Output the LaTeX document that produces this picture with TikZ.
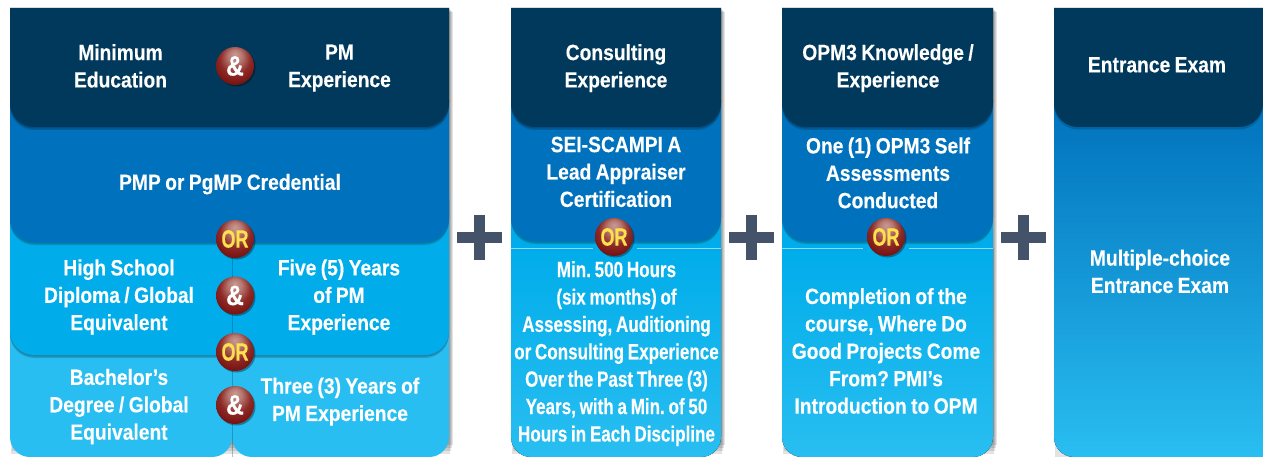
\documentclass[tikz,border=0pt]{standalone}
\usepackage{fontspec}
\newfontfamily\labfam{Liberation Sans Bold}[FakeStretch=0.875,FakeBold=0.25]
\newfontfamily\narrowfam{Liberation Sans Bold}[FakeStretch=0.775,FakeBold=0.25]
\newfontfamily\orfam{Liberation Sans Bold}[FakeStretch=0.72,FakeBold=0.3]
\usetikzlibrary{shadows}
\definecolor{cdark}{HTML}{00395C}
\definecolor{cblue}{HTML}{0071BC}
\definecolor{ccyan}{HTML}{00ADEA}
\definecolor{clight}{HTML}{29BEF1}
\definecolor{cplus}{HTML}{44526A}
\definecolor{ballhi}{HTML}{C79A92}
\definecolor{ballmid}{HTML}{8E2A26}
\definecolor{balllo}{HTML}{6E0B0B}
\definecolor{orgold}{HTML}{FFE14D}
\pgfdeclareradialshading{ballshade}{\pgfpoint{0bp}{16bp}}{%
  color(0bp)=(ballhi); color(9bp)=(ballhi!70!ballmid); color(20bp)=(ballmid); color(34bp)=(balllo); color(50bp)=(balllo)}
\newcommand\panelpath[4]{(#1,#2) -- (#3,#2) [rounded corners=24pt] -- (#3,#4) -- (#1,#4) [sharp corners] -- cycle}
\newcommand\labfont{\labfam\fontsize{22}{27.4}\selectfont\frenchspacing\spaceskip=.2em\relax}
\newcommand\narrowfont{\narrowfam\fontsize{22}{27.4}\selectfont\frenchspacing\spaceskip=.17em\relax}
\newcommand\labstrut{\vrule width 0pt height 19pt depth 8pt\relax}
\tikzset{
  x=1pt,y=-1pt,
  lab/.style={text=white,align=center,font=\labfont,inner sep=0pt,yshift=-3.8pt,
    execute at begin node=\labstrut,execute at end node=\labstrut},
  narrowlab/.style={lab,font=\narrowfont},
  ball/.style={circle,minimum size=38pt,inner sep=0pt,shading=ballshade,
    drop shadow={shadow xshift=1.5pt,shadow yshift=-1.5pt,opacity=.35,fill=black}},
  andball/.style={ball,text=white,font=\labfam\fontsize{28}{28}\selectfont},
  orball/.style={ball,text=orgold,font=\orfam\fontsize{25}{25}\selectfont},
  plusbar/.style={fill=cplus},
  colshadow/.style={fill=black,opacity=.11},
  panelshadow/.style={fill=black,opacity=.16},
  hairline/.style={draw=white,opacity=.55,line width=.7pt},
  divider/.style={draw=cdark,opacity=.3,line width=.8pt},
}
\newcommand\colshade[4]{%
  \foreach \d in {1,2,3,4}{\fill[colshadow] (#1+\d,#2+\d) rectangle (#3+\d,#4-\d*3);}}
\newcommand\panel[5]{%
  \fill[panelshadow] \panelpath{#1}{#2}{#3}{#4+1.5};
  \fill[panelshadow] \panelpath{#1}{#2}{#3}{#4+3};
  \fill[#5] \panelpath{#1}{#2}{#3}{#4};}
\begin{document}
\begin{tikzpicture}
\useasboundingbox (0,0) rectangle (1263,457);
\fill[white] (0,0) rectangle (1263,457);
% ---- column 1
\colshade{10}{8}{449}{457}
\fill[clight] (10,300) [rounded corners=20pt] -- (10,457) -- (232,457) [sharp corners] -- (232,300) -- cycle;
\fill[clight] (449,300) [rounded corners=20pt] -- (449,457) -- (232,457) [sharp corners] -- (232,300) -- cycle;
\draw[divider] (232,350) -- (232,457);
\panel{10}{200}{449}{355}{ccyan}
\draw[divider] (232,250) -- (232,352);
\panel{10}{100}{449}{242}{cblue}
\panel{10}{8}{449}{127}{cdark}
% ---- column 2
\colshade{511}{8}{721}{457}
\fill[ccyan] (511,200) rectangle (721,249);
\fill[top color=ccyan,bottom color=clight] (511,248) -- (721,248) [rounded corners=20pt] -- (721,457) -- (511,457) [sharp corners] -- cycle;
\draw[hairline] (511,248.5) -- (593,248.5);
\draw[hairline] (637,248.5) -- (721,248.5);
\panel{511}{100}{721}{241}{cblue}
\panel{511}{8}{721}{127}{cdark}
% ---- column 3
\colshade{782}{8}{993}{457}
\fill[ccyan] (782,200) rectangle (993,249);
\fill[top color=ccyan,bottom color=clight] (782,248) -- (993,248) [rounded corners=20pt] -- (993,457) -- (782,457) [sharp corners] -- cycle;
\draw[hairline] (782,248.5) -- (863,248.5);
\draw[hairline] (909,248.5) -- (993,248.5);
\panel{782}{100}{993}{241}{cblue}
\panel{782}{8}{993}{127}{cdark}
% ---- column 4
\fill[colshadow] (1055,11) rectangle (1263,457);
\fill[top color=cblue,bottom color=clight] (1263,100) -- (1263,457) [rounded corners=20pt] -- (1054,457) [sharp corners] -- (1054,100) -- cycle;
\fill[panelshadow] (1054,8) -- (1263,8) [rounded corners=24pt] -- (1263,129.5) -- (1054,129.5) [sharp corners] -- cycle;
\fill[cdark] (1054,8) -- (1263,8) [rounded corners=24pt] -- (1263,127) -- (1054,127) [sharp corners] -- cycle;
% ---- plus signs
\foreach \cx in {479.5,751.5,1023.5}{
  \fill[plusbar] (\cx-22.5,232) rectangle (\cx+22.5,243);
  \fill[plusbar] (\cx-5.5,215) rectangle (\cx+5.5,260);
}
% ---- labels
\node[lab] (minedu) at (120.5,66) {Minimum\\Education};
\node[lab] (pmexp) at (339.5,66) {PM\\Experience};
\node[lab] (pmp) at (230,180.5) {PMP or PgMP Credential};
\node[lab] (hs) at (119,295) {High School\\Diploma / Global\\Equivalent};
\node[lab] (five) at (339,295) {Five (5) Years\\of PM\\Experience};
\node[lab] (bach) at (119,404.5) {Bachelor’s\\Degree / Global\\Equivalent};
\node[lab] (three) at (340,399.5) {Three (3) Years of\\PM Experience};
\node[lab] (cons) at (616,66) {Consulting\\Experience};
\node[lab] (sei) at (616,172) {SEI-SCAMPI A\\Lead Appraiser\\Certification};
\node[narrowlab] (minh) at (616.5,351.5) {Min. 500 Hours\\(six months) of\\Assessing, Auditioning\\or Consulting Experience\\Over the Past Three (3)\\Years, with a Min. of 50\\Hours in Each Discipline};
\node[lab] (opm) at (888,66) {OPM3 Knowledge /\\Experience};
\node[lab] (one) at (888,173) {One (1) OPM3 Self\\Assessments\\Conducted};
\node[lab] (comp) at (886,351) {Completion of the\\course, Where Do\\Good Projects Come\\From? PMI’s\\Introduction to OPM};
\node[lab] (ent) at (1157,63) {Entrance Exam};
\node[lab] (mult) at (1160,271.5) {Multiple-choice\\Entrance Exam};
% ---- balls
\node[andball] (a1) at (235,66) {\&};
\node[orball] (o1) at (235,239) {OR};
\node[andball] (a2) at (235,295.5) {\&};
\node[orball] (o2) at (235,352) {OR};
\node[andball] (a3) at (235,405) {\&};
\node[orball] (o3) at (614,237) {OR};
\node[orball] (o4) at (886,237) {OR};
\end{tikzpicture}
\end{document}
